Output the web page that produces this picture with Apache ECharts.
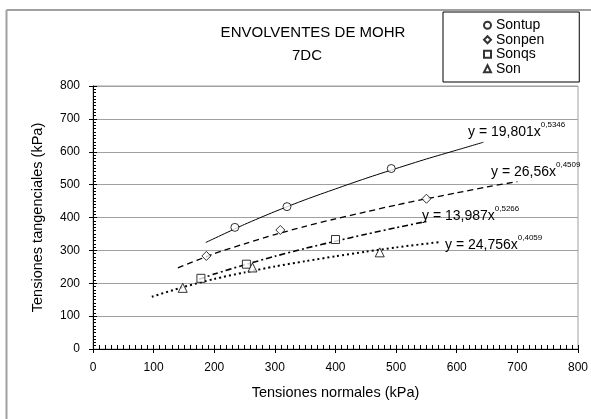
<!DOCTYPE html>
<html><head><meta charset="utf-8">
<script src="https://cdn.jsdelivr.net/npm/echarts@6/dist/echarts.min.js"></script>
<style>html,body{margin:0;padding:0;background:#fff}#c{width:591px;height:419px}</style>
</head><body><div id="c"></div>
<script>
// ---- data ----
const seriesNames = ['Sontup', 'Sonpen', 'Sonqs', 'Son'];
const sontupX = [234, 320, 492];
const sontupY = [370, 433, 549];
const sonpenX = [187, 309, 550];
const sonpenY = [283, 362, 457];
const sonqsX = [178, 253, 400];
const sonqsY = [215, 258, 333];
const sonX = [148, 263, 473];
const sonY = [186, 248, 294];
// trend curves
const trendSontupX = [186, 250, 300, 350, 400, 450, 500, 550, 600, 644];
const trendSontupY = [324, 379, 418, 454, 487, 519, 549, 578, 605, 629];
const trendSonpenX = [140, 200, 250, 300, 350, 400, 450, 500, 550, 600, 650, 700];
const trendSonpenY = [247, 290, 320, 348, 373, 396, 417, 438, 457, 475, 493, 509];
const trendSonqsX = [175, 200, 250, 300, 350, 400, 450, 500, 550];
const trendSonqsY = [212, 228, 256, 282, 306, 328, 349, 369, 388];
const trendSonX = [97, 150, 200, 250, 300, 350, 400, 450, 500, 570];
const trendSonY = [159, 189, 213, 233, 251, 267, 282, 296, 309, 325];
const equationTexts = ['y = 19,801x', 'y = 26,56x', 'y = 13,987x', 'y = 24,756x'];
const equationExps = ['0,5346', '0,4509', '0,5266', '0,4059'];
const titleLines = ['ENVOLVENTES DE MOHR', '7DC'];
const xAxisName = 'Tensiones normales (kPa)';
const yAxisName = 'Tensiones tangenciales (kPa)';

const zip = (xs, ys) => xs.map((x, i) => [x, ys[i]]);
const FONT = '"Liberation Sans", Arial, sans-serif';

const chart = echarts.init(document.getElementById('c'), null, {renderer: 'canvas'});

const markerStyle = {color: '#ffffff', borderColor: '#000000', borderWidth: 1};
const scatter = (name, xs, ys, symbol, size) => ({
  name, type: 'scatter', data: zip(xs, ys), symbol, symbolSize: size,
  itemStyle: markerStyle, z: 5
});
const trend = (xs, ys, lineStyle) => ({
  type: 'line', data: zip(xs, ys), showSymbol: false, symbol: 'none', smooth: 0.25,
  lineStyle: Object.assign({color: '#000', cap: 'butt'}, lineStyle), z: 3, silent: true
});

const eqPos = [[468, 121], [491, 161], [422, 205], [445, 234]];
const equationGraphics = equationTexts.map((t, i) => ({
  type: 'text', x: eqPos[i][0], y: eqPos[i][1], z: 10,
  style: {
    text: '{a|' + t + '}{s|' + equationExps[i] + '}',
    align: 'left', verticalAlign: 'top',
    rich: {
      a: {fontSize: 14, fontFamily: FONT, fill: '#000', lineHeight: 18, verticalAlign: 'bottom'},
      s: {fontSize: 8, fontFamily: FONT, fill: '#000', lineHeight: 18, verticalAlign: 'top'}
    }
  }
}));

const commonAxis = {min: 0, max: 800, interval: 100};

chart.setOption({
  animation: false,
  backgroundColor: '#ffffff',
  grid: {left: 93, right: 9, top: 86, bottom: 70, show: true, borderColor: '#a0a0a0', borderWidth: 1, backgroundColor: 'transparent'},
  legend: {
    data: seriesNames, orient: 'vertical', left: 443, top: 12,
    padding: [6, 35, 6, 40], itemGap: 0, itemWidth: 7, itemHeight: 7,
    borderColor: '#000', borderWidth: 1, backgroundColor: '#fff',
    textStyle: {fontSize: 14, fontFamily: FONT, color: '#000', lineHeight: 14.5},
    selectedMode: false
  },
  xAxis: [
    Object.assign({}, commonAxis, {
      type: 'value', position: 'bottom',
      name: xAxisName, nameLocation: 'middle', nameGap: 36,
      nameTextStyle: {fontSize: 14.5, fontFamily: FONT, color: '#000'},
      axisLine: {show: true, onZero: false, lineStyle: {color: '#000', width: 1}},
      axisTick: {show: true, inside: true, length: 4, lineStyle: {color: '#000'}},
      minorTick: {show: true, splitNumber: 10, length: 4, lineStyle: {color: '#000', width: 1}},
      axisLabel: {fontSize: 12, fontFamily: FONT, color: '#000', margin: 13},
      splitLine: {show: false}
    }),
    Object.assign({}, commonAxis, {
      type: 'value', position: 'bottom', offset: 0,
      axisLine: {show: false}, axisLabel: {show: false}, splitLine: {show: false},
      axisTick: {show: true, inside: false, length: 4, lineStyle: {color: '#000'}}
    })
  ],
  yAxis: [
    Object.assign({}, commonAxis, {
      type: 'value', position: 'left',
      name: yAxisName, nameLocation: 'middle', nameGap: 48,
      nameTextStyle: {fontSize: 14.5, fontFamily: FONT, color: '#000'},
      axisLine: {show: true, onZero: false, lineStyle: {color: '#000', width: 1}},
      axisTick: {show: true, inside: true, length: 4, lineStyle: {color: '#000'}},
      minorTick: {show: true, splitNumber: 10, length: 3, lineStyle: {color: '#000', width: 1}},
      axisLabel: {fontSize: 12, fontFamily: FONT, color: '#000', margin: 13},
      splitLine: {show: true, lineStyle: {color: '#a0a0a0', width: 1}}
    }),
    Object.assign({}, commonAxis, {
      type: 'value', position: 'left', offset: 0,
      axisLine: {show: false}, axisLabel: {show: false}, splitLine: {show: false},
      axisTick: {show: true, inside: false, length: 4, lineStyle: {color: '#000'}}
    })
  ],
  graphic: [
    {type: 'line', shape: {x1: 6.5, y1: 10, x2: 591, y2: 10}, style: {stroke: '#a0a0a0', lineWidth: 2}, z: 1},
    {type: 'line', shape: {x1: 6.5, y1: 10, x2: 6.5, y2: 419}, style: {stroke: '#a0a0a0', lineWidth: 2}, z: 1},
    {type: 'text', x: 313, y: 33, z: 10, style: {text: titleLines[0], font: '15px ' + FONT, fill: '#000', align: 'center', verticalAlign: 'middle'}},
    {type: 'text', x: 307, y: 56, z: 10, style: {text: titleLines[1], font: '15px ' + FONT, fill: '#000', align: 'center', verticalAlign: 'middle'}}
  ].concat(equationGraphics),
  series: [
    trend(trendSontupX, trendSontupY, {type: 'solid', width: 1}),
    trend(trendSonpenX, trendSonpenY, {type: [6, 4], width: 1.3}),
    trend(trendSonqsX, trendSonqsY, {type: [6, 3, 2, 3], width: 1.6}),
    trend(trendSonX, trendSonY, {type: [2, 3], width: 2}),
    scatter(seriesNames[0], sontupX, sontupY, 'circle', 8),
    scatter(seriesNames[1], sonpenX, sonpenY, 'diamond', 9),
    scatter(seriesNames[2], sonqsX, sonqsY, 'rect', 8),
    scatter(seriesNames[3], sonX, sonY, 'triangle', 9)
  ]
});
</script>
</body></html>
